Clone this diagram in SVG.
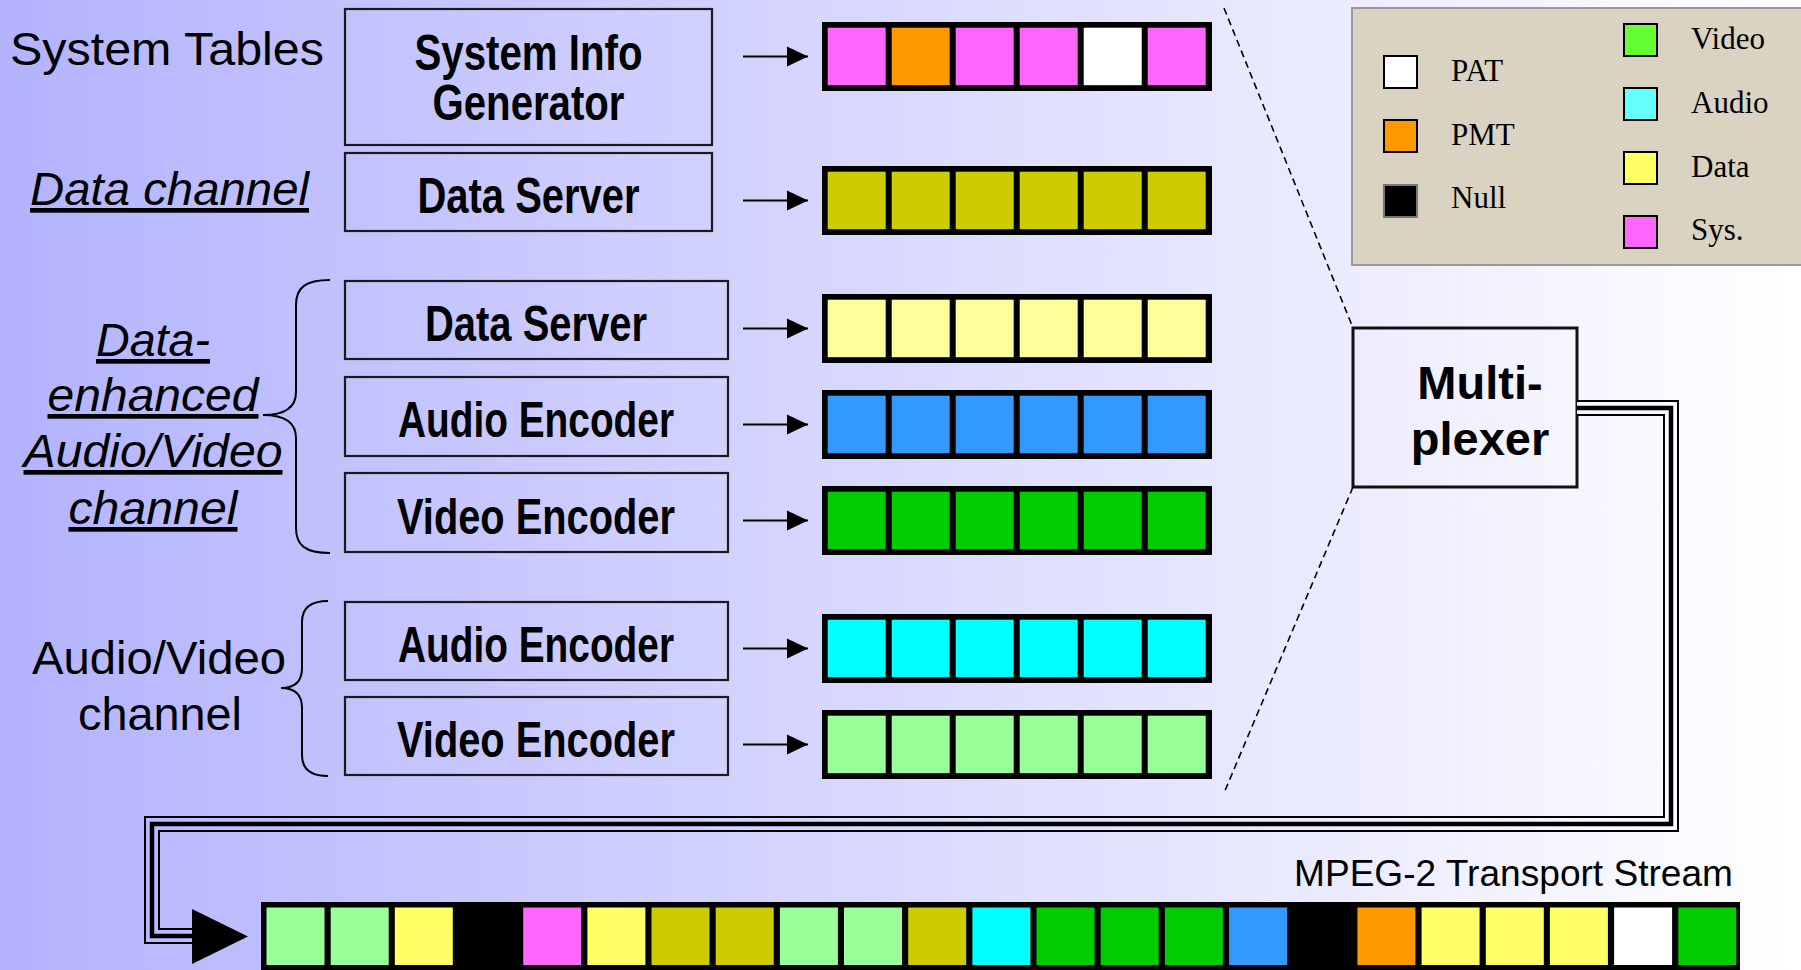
<svg xmlns="http://www.w3.org/2000/svg" width="1801" height="970" viewBox="0 0 1801 970">
  <defs>
    <linearGradient id="bg" gradientUnits="userSpaceOnUse" x1="0" y1="0" x2="1801" y2="0">
      <stop offset="0" stop-color="#b3b3fe"/>
      <stop offset="1" stop-color="#ffffff"/>
    </linearGradient>
    <marker id="arrow" markerUnits="userSpaceOnUse" markerWidth="22" markerHeight="22" viewBox="0 0 22 22" refX="21" refY="11" orient="auto">
      <path d="M0,1 L21,11 L0,21 Z" fill="#000"/>
    </marker>
  </defs>
  <style>
    .box{fill:none;stroke:#1a1a1a;stroke-width:2.2}
    .lbl{font-family:"Liberation Sans",Arial,Helvetica,sans-serif;font-weight:bold;font-size:50px;fill:#000;text-anchor:middle}
    .mux{font-family:"Liberation Sans",Arial,Helvetica,sans-serif;font-weight:bold;font-size:47px;fill:#000;text-anchor:middle}
    .side{font-family:"Liberation Sans",Arial,Helvetica,sans-serif;font-size:47px;fill:#000}
    .mid{text-anchor:middle}
    .it{font-style:italic;text-decoration:underline}
    .frame{fill:#000}
    .leg{font-family:"Liberation Serif","Times New Roman",serif;font-size:31px;fill:#000}
    .sw{stroke:#000;stroke-width:2}
    .feed{stroke:#000;stroke-width:2;marker-end:url(#arrow)}
    .dash{fill:none;stroke:#000;stroke-width:1.6;stroke-dasharray:7 4.5}
    .brace{fill:none;stroke:#000;stroke-width:2}
    .c{stroke:none}
    .sys{fill:#ff66ff}.pmt{fill:#ff9900}.pat{fill:#ffffff}.olive{fill:#cccc00}
    .ltyel{fill:#ffff99}.blue{fill:#3399ff}.green{fill:#00cc00}.cyan{fill:#00ffff}
    .ltgrn{fill:#99ff99}.yel{fill:#ffff66}
  </style>

  <!-- background -->
  <rect x="0" y="0" width="1801" height="970" fill="url(#bg)"/>

  <!-- channel captions -->
  <g id="caption-system">
    <text class="side" x="10" y="65" textLength="314" lengthAdjust="spacingAndGlyphs">System Tables</text>
  </g>
  <g id="caption-data">
    <text class="side it" x="30" y="205" textLength="279" lengthAdjust="spacingAndGlyphs">Data channel</text>
  </g>
  <g id="caption-enhanced">
    <text class="side it mid" x="153" y="356" textLength="114" lengthAdjust="spacingAndGlyphs">Data-</text>
    <text class="side it mid" x="153" y="411" textLength="211" lengthAdjust="spacingAndGlyphs">enhanced</text>
    <text class="side it mid" x="153" y="467" textLength="259" lengthAdjust="spacingAndGlyphs">Audio/Video</text>
    <text class="side it mid" x="153" y="524" textLength="169" lengthAdjust="spacingAndGlyphs">channel</text>
    <path class="brace" d="M330,280 C305,280 296,288 296,305 L296,392 C296,408 285,415 263,415 C285,415 296,422 296,438 L296,528 C296,545 305,553 330,553"/>
  </g>
  <g id="caption-av">
    <text class="side mid" x="159" y="674" textLength="254" lengthAdjust="spacingAndGlyphs">Audio/Video</text>
    <text class="side mid" x="160" y="730" textLength="164" lengthAdjust="spacingAndGlyphs">channel</text>
    <path class="brace" d="M328,601 C309,601 302,609 302,622 L302,668 C302,681 295,688 281,688 C295,688 302,695 302,708 L302,755 C302,768 309,776 328,776"/>
  </g>

  <!-- source boxes -->
  <g id="sys-info-gen">
    <rect class="box" x="345" y="9" width="367" height="136"/>
    <text class="lbl" x="528.5" y="69.5" textLength="228" lengthAdjust="spacingAndGlyphs">System Info</text>
    <text class="lbl" x="528.5" y="120" textLength="192" lengthAdjust="spacingAndGlyphs">Generator</text>
  </g>
  <g id="data-server-1">
    <rect class="box" x="345" y="153" width="367" height="78"/>
    <text class="lbl" x="528.5" y="213" textLength="222" lengthAdjust="spacingAndGlyphs">Data Server</text>
  </g>
  <g id="data-server-2">
    <rect class="box" x="345" y="281" width="383" height="78"/>
    <text class="lbl" x="536" y="341" textLength="222" lengthAdjust="spacingAndGlyphs">Data Server</text>
  </g>
  <g id="audio-enc-1">
    <rect class="box" x="345" y="377" width="383" height="79"/>
    <text class="lbl" x="536" y="437" textLength="276" lengthAdjust="spacingAndGlyphs">Audio Encoder</text>
  </g>
  <g id="video-enc-1">
    <rect class="box" x="345" y="473" width="383" height="79"/>
    <text class="lbl" x="536" y="534" textLength="278" lengthAdjust="spacingAndGlyphs">Video Encoder</text>
  </g>
  <g id="audio-enc-2">
    <rect class="box" x="345" y="602" width="383" height="78"/>
    <text class="lbl" x="536" y="662" textLength="276" lengthAdjust="spacingAndGlyphs">Audio Encoder</text>
  </g>
  <g id="video-enc-2">
    <rect class="box" x="345" y="697" width="383" height="78"/>
    <text class="lbl" x="536" y="757" textLength="278" lengthAdjust="spacingAndGlyphs">Video Encoder</text>
  </g>

  <!-- elementary packet streams -->
  <g id="stream-sys" transform="translate(0,22)">
    <rect class="frame" x="822" y="0" width="390" height="69"/>
    <rect class="c sys" x="827.7" y="5.7" width="58" height="57.5"/>
    <rect class="c pmt" x="891.7" y="5.7" width="58" height="57.5"/>
    <rect class="c sys" x="955.7" y="5.7" width="58" height="57.5"/>
    <rect class="c sys" x="1019.7" y="5.7" width="58" height="57.5"/>
    <rect class="c pat" x="1083.7" y="5.7" width="58" height="57.5"/>
    <rect class="c sys" x="1147.7" y="5.7" width="58" height="57.5"/>
  </g>
  <g id="stream-data" transform="translate(0,166)">
    <rect class="frame" x="822" y="0" width="390" height="69"/>
    <rect class="c olive" x="827.7" y="5.7" width="58" height="57.5"/>
    <rect class="c olive" x="891.7" y="5.7" width="58" height="57.5"/>
    <rect class="c olive" x="955.7" y="5.7" width="58" height="57.5"/>
    <rect class="c olive" x="1019.7" y="5.7" width="58" height="57.5"/>
    <rect class="c olive" x="1083.7" y="5.7" width="58" height="57.5"/>
    <rect class="c olive" x="1147.7" y="5.7" width="58" height="57.5"/>
  </g>
  <g id="stream-data-2" transform="translate(0,294)">
    <rect class="frame" x="822" y="0" width="390" height="69"/>
    <rect class="c ltyel" x="827.7" y="5.7" width="58" height="57.5"/>
    <rect class="c ltyel" x="891.7" y="5.7" width="58" height="57.5"/>
    <rect class="c ltyel" x="955.7" y="5.7" width="58" height="57.5"/>
    <rect class="c ltyel" x="1019.7" y="5.7" width="58" height="57.5"/>
    <rect class="c ltyel" x="1083.7" y="5.7" width="58" height="57.5"/>
    <rect class="c ltyel" x="1147.7" y="5.7" width="58" height="57.5"/>
  </g>
  <g id="stream-audio-1" transform="translate(0,390)">
    <rect class="frame" x="822" y="0" width="390" height="69"/>
    <rect class="c blue" x="827.7" y="5.7" width="58" height="57.5"/>
    <rect class="c blue" x="891.7" y="5.7" width="58" height="57.5"/>
    <rect class="c blue" x="955.7" y="5.7" width="58" height="57.5"/>
    <rect class="c blue" x="1019.7" y="5.7" width="58" height="57.5"/>
    <rect class="c blue" x="1083.7" y="5.7" width="58" height="57.5"/>
    <rect class="c blue" x="1147.7" y="5.7" width="58" height="57.5"/>
  </g>
  <g id="stream-video-1" transform="translate(0,486)">
    <rect class="frame" x="822" y="0" width="390" height="69"/>
    <rect class="c green" x="827.7" y="5.7" width="58" height="57.5"/>
    <rect class="c green" x="891.7" y="5.7" width="58" height="57.5"/>
    <rect class="c green" x="955.7" y="5.7" width="58" height="57.5"/>
    <rect class="c green" x="1019.7" y="5.7" width="58" height="57.5"/>
    <rect class="c green" x="1083.7" y="5.7" width="58" height="57.5"/>
    <rect class="c green" x="1147.7" y="5.7" width="58" height="57.5"/>
  </g>
  <g id="stream-audio-2" transform="translate(0,614)">
    <rect class="frame" x="822" y="0" width="390" height="69"/>
    <rect class="c cyan" x="827.7" y="5.7" width="58" height="57.5"/>
    <rect class="c cyan" x="891.7" y="5.7" width="58" height="57.5"/>
    <rect class="c cyan" x="955.7" y="5.7" width="58" height="57.5"/>
    <rect class="c cyan" x="1019.7" y="5.7" width="58" height="57.5"/>
    <rect class="c cyan" x="1083.7" y="5.7" width="58" height="57.5"/>
    <rect class="c cyan" x="1147.7" y="5.7" width="58" height="57.5"/>
  </g>
  <g id="stream-video-2" transform="translate(0,710)">
    <rect class="frame" x="822" y="0" width="390" height="69"/>
    <rect class="c ltgrn" x="827.7" y="5.7" width="58" height="57.5"/>
    <rect class="c ltgrn" x="891.7" y="5.7" width="58" height="57.5"/>
    <rect class="c ltgrn" x="955.7" y="5.7" width="58" height="57.5"/>
    <rect class="c ltgrn" x="1019.7" y="5.7" width="58" height="57.5"/>
    <rect class="c ltgrn" x="1083.7" y="5.7" width="58" height="57.5"/>
    <rect class="c ltgrn" x="1147.7" y="5.7" width="58" height="57.5"/>
  </g>

  <!-- multiplexer -->
  <g id="multiplexer">
    <rect x="1353" y="328" width="224" height="159" fill="none" stroke="#111" stroke-width="3"/>
    <text class="mux" x="1480" y="399">Multi-</text>
    <text class="mux" x="1480" y="455">plexer</text>
  </g>

  <!-- packet type legend -->
  <g id="legend">
    <rect x="1352" y="8" width="460" height="257" fill="#dad3c1" stroke="#999" stroke-width="2"/>
    <rect class="sw" x="1384" y="56" width="33" height="32" fill="#ffffff"/>
    <rect class="sw" x="1384" y="120" width="33" height="32" fill="#ff9900"/>
    <rect x="1384" y="185" width="33" height="32" fill="#000" stroke="#777" stroke-width="2"/>
    <text class="leg" x="1451" y="81">PAT</text>
    <text class="leg" x="1451" y="145">PMT</text>
    <text class="leg" x="1451" y="208">Null</text>
    <rect class="sw" x="1624" y="24" width="33" height="32" fill="#66ff33"/>
    <rect class="sw" x="1624" y="88" width="33" height="32" fill="#66ffff"/>
    <rect class="sw" x="1624" y="152" width="33" height="32" fill="#ffff66"/>
    <rect class="sw" x="1624" y="216" width="33" height="32" fill="#ff66ff"/>
    <text class="leg" x="1691" y="49">Video</text>
    <text class="leg" x="1691" y="113">Audio</text>
    <text class="leg" x="1691" y="177">Data</text>
    <text class="leg" x="1691" y="240">Sys.</text>
  </g>

  <!-- multiplexed output -->
  <g id="transport-stream">
    <text x="1733" y="886" font-family="'Liberation Sans',Arial,Helvetica,sans-serif" font-size="37" text-anchor="end" textLength="439" lengthAdjust="spacingAndGlyphs">MPEG-2 Transport Stream</text>
    <rect class="frame" x="261" y="902" width="1479" height="72"/>
    <rect class="c ltgrn" x="266.5" y="907.5" width="58" height="57.5"/>
    <rect class="c ltgrn" x="330.7" y="907.5" width="58" height="57.5"/>
    <rect class="c yel" x="394.8" y="907.5" width="58" height="57.5"/>
    <rect class="c sys" x="523.2" y="907.5" width="58" height="57.5"/>
    <rect class="c yel" x="587.4" y="907.5" width="58" height="57.5"/>
    <rect class="c olive" x="651.5" y="907.5" width="58" height="57.5"/>
    <rect class="c olive" x="715.7" y="907.5" width="58" height="57.5"/>
    <rect class="c ltgrn" x="779.9" y="907.5" width="58" height="57.5"/>
    <rect class="c ltgrn" x="844" y="907.5" width="58" height="57.5"/>
    <rect class="c olive" x="908.2" y="907.5" width="58" height="57.5"/>
    <rect class="c cyan" x="972.4" y="907.5" width="58" height="57.5"/>
    <rect class="c green" x="1036.5" y="907.5" width="58" height="57.5"/>
    <rect class="c green" x="1100.7" y="907.5" width="58" height="57.5"/>
    <rect class="c green" x="1164.9" y="907.5" width="58" height="57.5"/>
    <rect class="c blue" x="1229.1" y="907.5" width="58" height="57.5"/>
    <rect class="c pmt" x="1357.4" y="907.5" width="58" height="57.5"/>
    <rect class="c yel" x="1421.6" y="907.5" width="58" height="57.5"/>
    <rect class="c yel" x="1485.8" y="907.5" width="58" height="57.5"/>
    <rect class="c yel" x="1549.9" y="907.5" width="58" height="57.5"/>
    <rect class="c pat" x="1614.1" y="907.5" width="58" height="57.5"/>
    <rect class="c green" x="1678.3" y="907.5" width="58" height="57.5"/>
  </g>

  <!-- connectors -->
  <g id="connectors">
    <line class="feed" x1="743" y1="56.5" x2="808" y2="56.5"/>
    <line class="feed" x1="743" y1="200.5" x2="808" y2="200.5"/>
    <line class="feed" x1="743" y1="328.5" x2="808" y2="328.5"/>
    <line class="feed" x1="743" y1="424.5" x2="808" y2="424.5"/>
    <line class="feed" x1="743" y1="520.5" x2="808" y2="520.5"/>
    <line class="feed" x1="743" y1="648.5" x2="808" y2="648.5"/>
    <line class="feed" x1="743" y1="744.5" x2="808" y2="744.5"/>
    <line class="dash" x1="1224" y1="8" x2="1353" y2="328"/>
    <line class="dash" x1="1353" y1="487" x2="1224" y2="793"/>
    <g id="ts-link" fill="none" stroke-linejoin="miter">
      <path d="M1577,408 H1671 V824 H152 V936 H194" stroke="#000" stroke-width="16"/>
      <path d="M1577,408 H1671 V824 H152 V936 H194" stroke="url(#bg)" stroke-width="12"/>
      <path d="M1577,408 H1671 V824 H152 V936 H194" stroke="#000" stroke-width="4.5"/>
    </g>
    <polygon points="192,909 248,936.5 192,964" fill="#000"/>
  </g>
</svg>
